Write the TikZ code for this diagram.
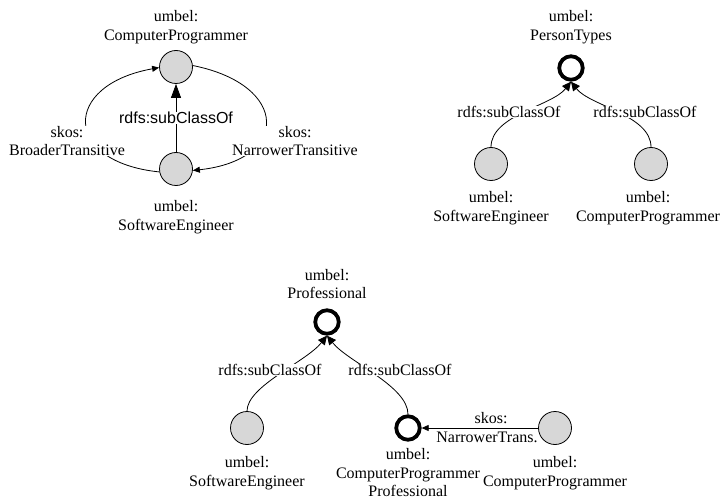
\documentclass[tikz,border=0pt]{standalone}
\usepackage{fontspec}
\setmainfont{Liberation Serif}
\setsansfont{Liberation Sans}
\usetikzlibrary{arrows.meta}
\definecolor{nodegray}{RGB}{215,215,215}
\begin{document}
\begin{tikzpicture}[x=1pt,y=-1pt,
  every node/.style={font=\fontsize{16}{18.5}\selectfont},
  graynode/.style={circle,draw,fill=nodegray,line width=0.8pt,minimum size=33pt,inner sep=0pt},
  ringnode/.style={circle,draw,line width=3.8pt,minimum size=23.5pt,inner sep=0pt},
  lbl/.style={align=center,inner sep=0pt},
  elbl/.style={align=center,fill=white,inner sep=0.5pt},
  edge/.style={line width=0.8pt},
  bigtip/.style={-{Triangle[length=14pt,width=10pt]}},
  midtip/.style={-{Triangle[length=9pt,width=8.5pt]}},
  smalltip/.style={-{Triangle[length=7pt,width=6pt]}}]
\useasboundingbox (0,0) rectangle (723,497);

% ---------- top-left ----------
\node[graynode] (cp1) at (176,67) {};
\node[graynode] (se1) at (176,169) {};
\node[lbl] (cp1l) at (176,27) {umbel:\\ComputerProgrammer};
\node[lbl] (se1l) at (176,217) {umbel:\\SoftwareEngineer};
\draw[edge,bigtip] (se1.north) -- (cp1.south);
\draw[edge,smalltip] (se1.190) .. controls (62,162) and (62,85) .. (cp1.182);
\draw[edge,smalltip] (cp1.5) .. controls (290,85) and (290,160) .. (se1.-5);
\node[elbl,font=\sffamily\fontsize{16}{18.5}\selectfont] (sub1) at (176,118) {rdfs:subClassOf};
\node[elbl] (br1) at (67,141) {skos:\\BroaderTransitive};
\node[elbl] (nr1) at (295,141) {skos:\\NarrowerTransitive};

% ---------- top-right ----------
\node[ringnode] (pt) at (571,68) {};
\node[lbl] (ptl) at (571,27) {umbel:\\PersonTypes};
\node[graynode] (se2) at (491,164) {};
\node[graynode] (cp2) at (651,164) {};
\node[lbl] (se2l) at (491,208) {umbel:\\SoftwareEngineer};
\node[lbl] (cp2l) at (648,208) {umbel:\\ComputerProgrammer};
\draw[edge,midtip] (se2.north) .. controls (491,115) and (552,106) .. (pt.south);
\draw[edge,midtip] (cp2.north) .. controls (651,115) and (590,106) .. (pt.south);
\node[elbl] (sub2) at (509,112) {rdfs:subClassOf};
\node[elbl] (sub3) at (645,112) {rdfs:subClassOf};

% ---------- bottom ----------
\node[ringnode] (prof) at (327,322) {};
\node[lbl] (profl) at (327,284) {umbel:\\Professional};
\node[graynode] (se3) at (247,428) {};
\node[ringnode] (cpp) at (408,428) {};
\node[graynode] (cp3) at (555,428) {};
\node[lbl] (se3l) at (247,473) {umbel:\\SoftwareEngineer};
\node[lbl] (cppl) at (408,473) {umbel:\\ComputerProgrammer\\Professional};
\node[lbl] (cp3l) at (555,473) {umbel:\\ComputerProgrammer};
\draw[edge,midtip] (se3.north) .. controls (247,386) and (306,362) .. (prof.south);
\draw[edge,midtip] (cpp.north) .. controls (408,386) and (348,362) .. (prof.south);
\node[elbl] (sub4) at (270,370) {rdfs:subClassOf};
\node[elbl] (sub5) at (400,370) {rdfs:subClassOf};
\draw[edge,smalltip] (cp3) -- (cpp);
\node[lbl] (sk3) at (491,418) {skos:};
\node[lbl] (nt3) at (487,437) {NarrowerTrans.};
\end{tikzpicture}
\end{document}
